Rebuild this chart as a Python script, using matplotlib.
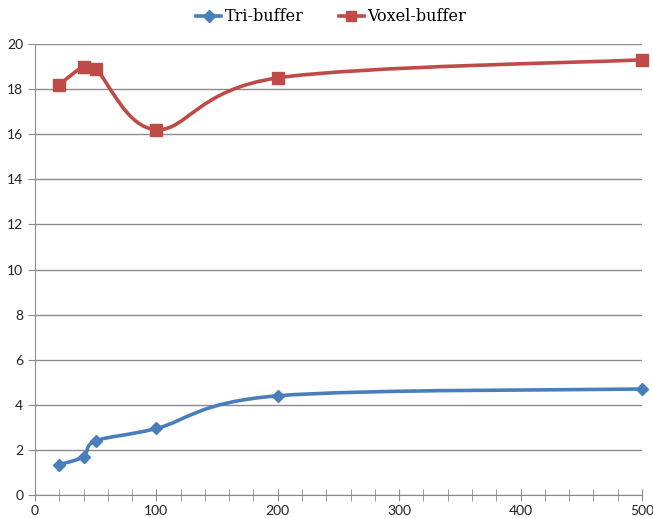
import numpy as np
import matplotlib.pyplot as plt
from matplotlib.path import Path
from matplotlib.patches import PathPatch
from matplotlib.lines import Line2D

# data
x_vals = [20, 40, 50, 100, 200, 500]
tri_buffer = [1.35, 1.7, 2.4, 2.95, 4.4, 4.7]
voxel_buffer = [18.2, 19.0, 18.9, 16.2, 18.5, 19.3]
series_names = ["Tri-buffer", "Voxel-buffer"]
x_ticks = [0, 100, 200, 300, 400, 500]
y_ticks = [0, 2, 4, 6, 8, 10, 12, 14, 16, 18, 20]

blue = "#4a7ebb"
red = "#be4b48"
grid_col = "#8c8c8c"


#excel-like smoothed line: cubic bezier segments through the points
def smooth_path(ax, xs, ys):
    pts = ax.transData.transform(np.column_stack([xs, ys]))
    n = len(pts)
    verts = [pts[0]]
    codes = [Path.MOVETO]
    for i in range(n - 1):
        p0 = pts[i - 1] if i > 0 else pts[i]
        p1 = pts[i]
        p2 = pts[i + 1]
        p3 = pts[i + 2] if i + 2 < n else pts[i + 1]
        c1 = p1 + (p2 - p0) / 6
        c2 = p2 - (p3 - p1) / 6
        verts += [c1, c2, p2]
        codes += [Path.CURVE4] * 3
    return Path(verts, codes)


fig = plt.figure(figsize=(6.53, 5.18), dpi=100)
ax = fig.add_axes([0.0536, 0.0444, 0.9294, 0.8706])
ax.set_xlim(0, 500)
ax.set_ylim(0, 20)
ax.set_xticks(x_ticks)
ax.set_xticks(np.arange(0, 501, 20), minor=True)
ax.set_yticks(y_ticks)
ax.yaxis.grid(True, color=grid_col, linewidth=1)
ax.set_axisbelow(True)
for s in ["top", "right"]:
    ax.spines[s].set_visible(False)
for s in ["left", "bottom"]:
    ax.spines[s].set_color(grid_col)
ax.tick_params(axis="both", which="both", color=grid_col, direction="out", length=5,
               labelsize=10, labelcolor="#222222")
ax.tick_params(axis="x", which="both", direction="inout", length=8)
for lab in ax.get_xticklabels() + ax.get_yticklabels():
    lab.set_family("Lato")

fig.canvas.draw()
for ys, col in [(tri_buffer, blue), (voxel_buffer, red)]:
    path = smooth_path(ax, x_vals, ys)
    patch = PathPatch(path, facecolor="none", edgecolor=col, linewidth=2.6,
                      transform=None, capstyle="round", joinstyle="round", zorder=3)
    fig.add_artist(patch)

ax.plot(x_vals, tri_buffer, linestyle="none", marker="D", markersize=6.5, color=blue,
        zorder=4, clip_on=False)
ax.plot(x_vals, voxel_buffer, linestyle="none", marker="s", markersize=8, color=red,
        zorder=4, clip_on=False)

handles = [Line2D([], [], color=blue, linewidth=2.6, marker="D", markersize=6),
           Line2D([], [], color=red, linewidth=2.6, marker="s", markersize=7.5)]
fig.legend(handles, series_names, loc="upper center", bbox_to_anchor=(0.507, 1.012),
           ncol=2, frameon=False, handlelength=1.6, columnspacing=2.2, handletextpad=0.2,
           prop={"family": "DejaVu Serif", "size": 11.5})

fig.savefig("out.png", dpi=100)
